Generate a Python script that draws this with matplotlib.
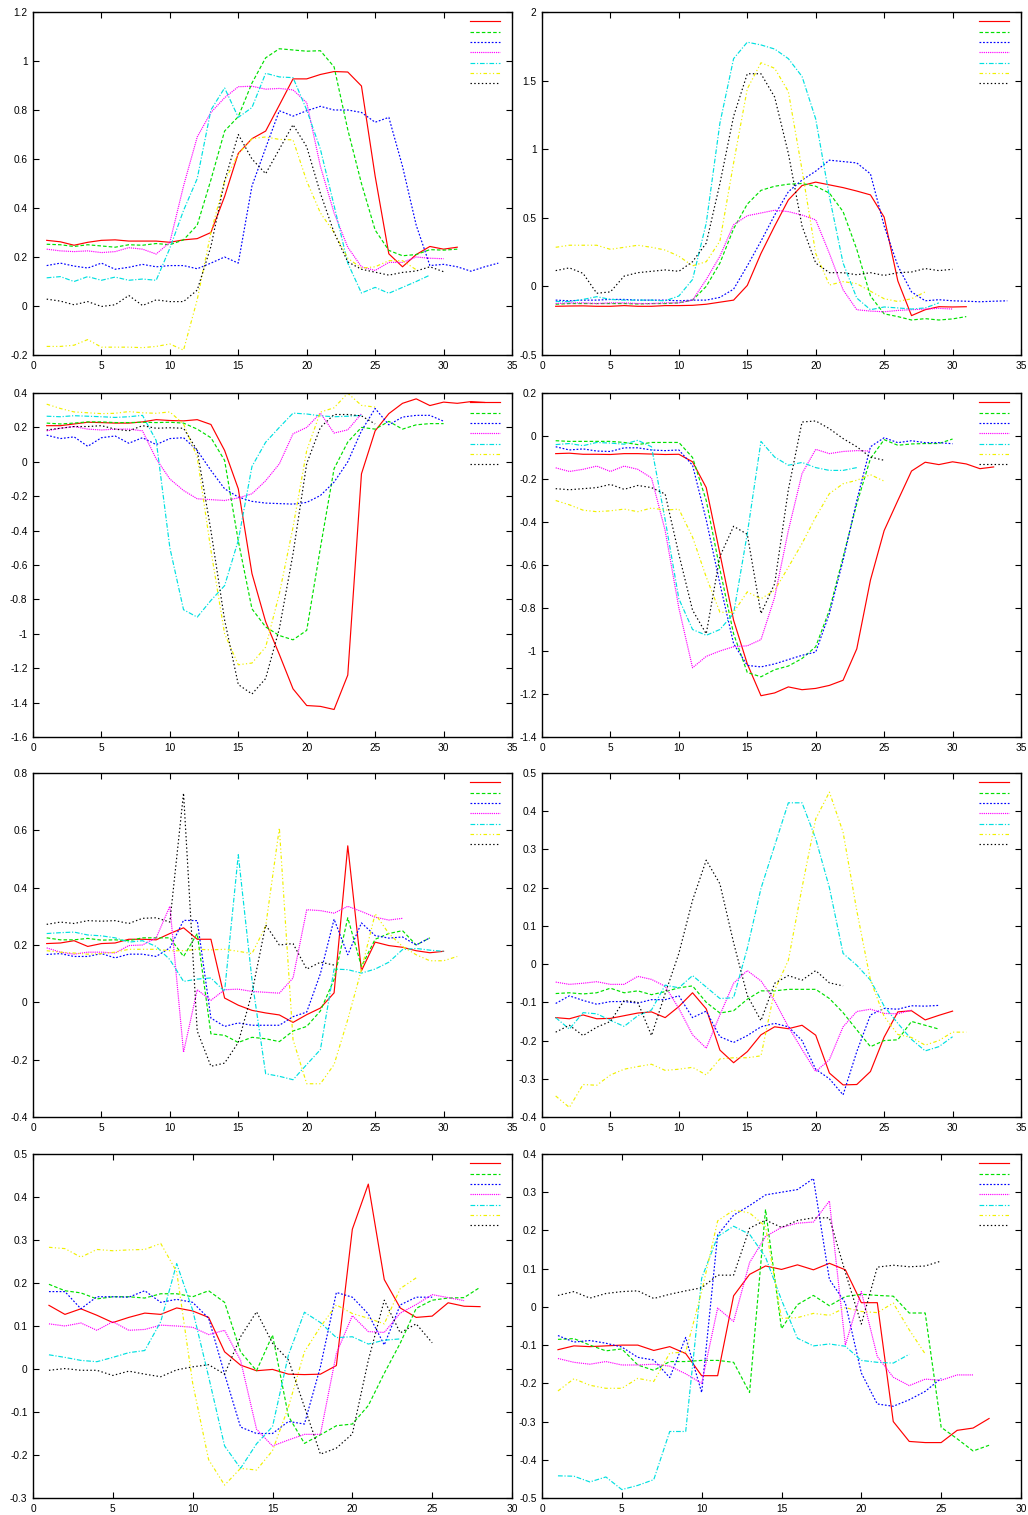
import numpy as np
import matplotlib
matplotlib.use('Agg')
import matplotlib.pyplot as plt
from matplotlib.ticker import FixedLocator, FuncFormatter

plt.rcParams['font.family'] = ['Liberation Sans', 'DejaVu Sans']

# ---------------- data (x = 1..N) ----------------
p1_red = [0.268, 0.262, 0.248, 0.26, 0.268, 0.27, 0.265, 0.265, 0.265, 0.26, 0.27, 0.275, 0.30, 0.447, 0.623, 0.683, 0.714, 0.82, 0.927, 0.927, 0.945, 0.957, 0.955, 0.898, 0.53, 0.213, 0.16, 0.21, 0.243, 0.232, 0.24]
p1_green = [0.252, 0.25, 0.243, 0.25, 0.245, 0.24, 0.25, 0.248, 0.255, 0.25, 0.27, 0.33, 0.515, 0.714, 0.773, 0.91, 1.013, 1.05, 1.045, 1.04, 1.042, 0.976, 0.72, 0.50, 0.31, 0.227, 0.205, 0.21, 0.23, 0.228, 0.232]
p1_blue = [0.165, 0.175, 0.163, 0.155, 0.175, 0.15, 0.158, 0.17, 0.16, 0.165, 0.165, 0.152, 0.175, 0.20, 0.175, 0.49, 0.645, 0.797, 0.775, 0.797, 0.815, 0.80, 0.80, 0.79, 0.75, 0.77, 0.57, 0.33, 0.165, 0.17, 0.16, 0.142, 0.16, 0.175]
p1_magenta = [0.232, 0.225, 0.222, 0.225, 0.218, 0.222, 0.238, 0.232, 0.212, 0.26, 0.49, 0.69, 0.79, 0.85, 0.895, 0.897, 0.885, 0.888, 0.882, 0.83, 0.57, 0.38, 0.24, 0.16, 0.145, 0.178, 0.178, 0.20, 0.195, 0.193]
p1_cyan = [0.115, 0.12, 0.10, 0.12, 0.105, 0.118, 0.105, 0.11, 0.105, 0.236, 0.39, 0.52, 0.80, 0.89, 0.77, 0.81, 0.95, 0.935, 0.932, 0.80, 0.64, 0.41, 0.175, 0.053, 0.076, 0.052, 0.076, 0.10, 0.126]
p1_yellow = [-0.165, -0.165, -0.16, -0.137, -0.168, -0.168, -0.168, -0.17, -0.165, -0.155, -0.18, 0.026, 0.30, 0.51, 0.62, 0.683, 0.69, 0.68, 0.678, 0.51, 0.38, 0.30, 0.195, 0.155, 0.16, 0.185, 0.185, 0.148]
p1_black = [0.028, 0.02, 0.005, 0.018, -0.002, 0.005, 0.043, 0.002, 0.025, 0.018, 0.018, 0.065, 0.243, 0.51, 0.70, 0.60, 0.54, 0.64, 0.74, 0.65, 0.46, 0.30, 0.18, 0.15, 0.138, 0.126, 0.137, 0.143, 0.16, 0.14]

p2_red = [-0.145, -0.143, -0.142, -0.145, -0.145, -0.14, -0.145, -0.145, -0.14, -0.14, -0.138, -0.13, -0.115, -0.10, 0.007, 0.24, 0.44, 0.63, 0.735, 0.76, 0.74, 0.72, 0.695, 0.667, 0.505, 0.04, -0.213, -0.17, -0.148, -0.15, -0.148]
p2_green = [-0.13, -0.125, -0.125, -0.125, -0.125, -0.125, -0.128, -0.125, -0.125, -0.12, -0.10, 0.0, 0.17, 0.42, 0.60, 0.70, 0.73, 0.745, 0.75, 0.73, 0.68, 0.545, 0.27, -0.07, -0.20, -0.22, -0.245, -0.235, -0.245, -0.237, -0.22]
p2_blue = [-0.10, -0.105, -0.10, -0.10, -0.095, -0.095, -0.10, -0.10, -0.10, -0.105, -0.10, -0.10, -0.08, -0.02, 0.15, 0.33, 0.52, 0.69, 0.775, 0.84, 0.92, 0.91, 0.90, 0.82, 0.44, 0.15, -0.04, -0.105, -0.097, -0.105, -0.108, -0.112, -0.108, -0.105]
p2_magenta = [-0.125, -0.12, -0.12, -0.125, -0.12, -0.12, -0.125, -0.125, -0.12, -0.12, -0.10, 0.05, 0.22, 0.45, 0.515, 0.535, 0.555, 0.545, 0.52, 0.485, 0.24, -0.025, -0.17, -0.18, -0.185, -0.175, -0.17, -0.165, -0.16, -0.165]
p2_cyan = [-0.11, -0.11, -0.095, -0.075, -0.095, -0.10, -0.10, -0.10, -0.105, -0.07, 0.05, 0.46, 1.19, 1.66, 1.78, 1.76, 1.73, 1.66, 1.53, 1.22, 0.655, 0.17, -0.085, -0.17, -0.15, -0.157, -0.165, -0.157, -0.12]
p2_yellow = [0.285, 0.30, 0.30, 0.30, 0.27, 0.285, 0.30, 0.285, 0.265, 0.22, 0.15, 0.18, 0.33, 0.90, 1.44, 1.63, 1.59, 1.42, 0.85, 0.24, 0.01, 0.035, 0.02, -0.035, -0.09, -0.11, -0.09, -0.04]
p2_black = [0.115, 0.135, 0.095, -0.05, -0.04, 0.075, 0.10, 0.11, 0.12, 0.11, 0.18, 0.315, 0.75, 1.24, 1.55, 1.55, 1.38, 0.97, 0.44, 0.17, 0.10, 0.10, 0.085, 0.10, 0.08, 0.10, 0.105, 0.13, 0.115, 0.125]

p3_red = [0.21, 0.21, 0.22, 0.23, 0.228, 0.225, 0.225, 0.232, 0.245, 0.24, 0.238, 0.245, 0.217, 0.066, -0.157, -0.65, -0.93, -1.12, -1.32, -1.417, -1.422, -1.44, -1.24, -0.07, 0.18, 0.28, 0.34, 0.366, 0.327, 0.347, 0.34, 0.35, 0.345]
p3_green = [0.225, 0.22, 0.225, 0.232, 0.232, 0.228, 0.228, 0.23, 0.228, 0.23, 0.225, 0.19, 0.14, 0.008, -0.46, -0.855, -0.96, -1.01, -1.035, -0.98, -0.50, -0.04, 0.115, 0.20, 0.19, 0.235, 0.19, 0.215, 0.222, 0.222]
p3_blue = [0.155, 0.135, 0.145, 0.09, 0.14, 0.15, 0.108, 0.14, 0.10, 0.135, 0.14, 0.066, -0.05, -0.157, -0.205, -0.23, -0.24, -0.243, -0.246, -0.236, -0.196, -0.118, 0.0, 0.18, 0.31, 0.215, 0.26, 0.27, 0.27, 0.236]
p3_magenta = [0.18, 0.195, 0.205, 0.19, 0.185, 0.19, 0.19, 0.18, 0.017, -0.10, -0.167, -0.215, -0.22, -0.225, -0.21, -0.186, -0.11, -0.012, 0.163, 0.20, 0.283, 0.167, 0.186, 0.279]
p3_cyan = [0.265, 0.262, 0.268, 0.265, 0.262, 0.258, 0.262, 0.27, 0.124, -0.50, -0.86, -0.903, -0.806, -0.72, -0.457, -0.027, 0.114, 0.20, 0.283, 0.278, 0.267, 0.262, 0.265, 0.27]
p3_yellow = [0.335, 0.31, 0.29, 0.285, 0.28, 0.282, 0.292, 0.285, 0.282, 0.29, 0.22, 0.027, -0.515, -1.0, -1.18, -1.17, -1.077, -0.767, -0.38, 0.066, 0.289, 0.314, 0.399, 0.328, 0.318]
p3_black = [0.185, 0.195, 0.205, 0.205, 0.21, 0.19, 0.18, 0.21, 0.195, 0.198, 0.195, 0.066, -0.40, -0.92, -1.295, -1.35, -1.26, -0.97, -0.535, -0.01, 0.20, 0.275, 0.275, 0.267, 0.22]

p4_red = [-0.082, -0.08, -0.085, -0.085, -0.086, -0.082, -0.082, -0.084, -0.086, -0.085, -0.12, -0.24, -0.547, -0.857, -1.06, -1.208, -1.195, -1.167, -1.18, -1.174, -1.16, -1.136, -0.99, -0.67, -0.44, -0.30, -0.163, -0.122, -0.133, -0.12, -0.13, -0.152, -0.144]
p4_green = [-0.022, -0.025, -0.025, -0.025, -0.025, -0.03, -0.04, -0.03, -0.03, -0.03, -0.10, -0.30, -0.62, -0.92, -1.10, -1.12, -1.087, -1.07, -1.035, -0.98, -0.81, -0.563, -0.315, -0.105, -0.017, -0.043, -0.037, -0.035, -0.035, -0.014]
p4_blue = [-0.05, -0.065, -0.06, -0.07, -0.072, -0.055, -0.055, -0.065, -0.068, -0.065, -0.136, -0.39, -0.687, -0.966, -1.067, -1.074, -1.06, -1.04, -1.02, -1.005, -0.826, -0.578, -0.30, -0.05, -0.008, -0.031, -0.022, -0.031, -0.031, -0.036]
p4_magenta = [-0.148, -0.165, -0.155, -0.14, -0.165, -0.14, -0.155, -0.195, -0.44, -0.80, -1.078, -1.025, -1.0, -0.98, -0.976, -0.947, -0.75, -0.44, -0.175, -0.062, -0.082, -0.072, -0.068, -0.07]
p4_cyan = [-0.04, -0.035, -0.045, -0.03, -0.033, -0.038, -0.02, -0.05, -0.39, -0.757, -0.90, -0.927, -0.90, -0.826, -0.454, -0.025, -0.098, -0.136, -0.123, -0.147, -0.16, -0.16, -0.147]
p4_yellow = [-0.30, -0.32, -0.345, -0.352, -0.348, -0.34, -0.352, -0.335, -0.345, -0.34, -0.47, -0.656, -0.82, -0.82, -0.725, -0.757, -0.718, -0.61, -0.50, -0.377, -0.268, -0.222, -0.206, -0.18, -0.21]
p4_black = [-0.245, -0.25, -0.245, -0.24, -0.225, -0.248, -0.23, -0.24, -0.27, -0.55, -0.81, -0.92, -0.56, -0.42, -0.457, -0.826, -0.687, -0.25, 0.065, 0.07, 0.034, -0.012, -0.05, -0.098, -0.113]

p5_red = [0.205, 0.207, 0.215, 0.195, 0.205, 0.207, 0.22, 0.22, 0.218, 0.24, 0.26, 0.22, 0.22, 0.015, -0.01, -0.028, -0.037, -0.044, -0.07, -0.043, -0.02, 0.033, 0.546, 0.11, 0.21, 0.198, 0.192, 0.18, 0.173, 0.178]
p5_green = [0.225, 0.218, 0.218, 0.223, 0.217, 0.218, 0.215, 0.225, 0.225, 0.225, 0.16, 0.24, -0.11, -0.115, -0.14, -0.122, -0.127, -0.137, -0.10, -0.084, -0.03, 0.08, 0.295, 0.125, 0.22, 0.24, 0.25, 0.2, 0.225]
p5_blue = [0.167, 0.17, 0.16, 0.16, 0.17, 0.155, 0.168, 0.168, 0.16, 0.19, 0.286, 0.285, -0.055, -0.084, -0.072, -0.08, -0.08, -0.08, -0.05, -0.034, 0.10, 0.29, 0.166, 0.277, 0.233, 0.224, 0.228, 0.2, 0.225]
p5_magenta = [0.19, 0.175, 0.168, 0.175, 0.175, 0.172, 0.198, 0.2, 0.225, 0.335, -0.174, 0.044, 0.007, 0.044, 0.046, 0.038, 0.035, 0.032, 0.085, 0.323, 0.32, 0.311, 0.335, 0.317, 0.297, 0.287, 0.293]
p5_cyan = [0.24, 0.243, 0.245, 0.235, 0.232, 0.225, 0.21, 0.215, 0.195, 0.149, 0.073, 0.081, 0.085, 0.038, 0.515, 0.079, -0.249, -0.258, -0.27, -0.217, -0.165, 0.116, 0.114, 0.102, 0.116, 0.14, 0.184, 0.188, 0.182, 0.178]
p5_yellow = [0.18, 0.175, 0.172, 0.168, 0.17, 0.175, 0.185, 0.185, 0.185, 0.18, 0.18, 0.185, 0.183, 0.185, 0.178, 0.17, 0.265, 0.608, -0.13, -0.284, -0.284, -0.217, -0.06, 0.114, 0.309, 0.24, 0.195, 0.166, 0.145, 0.145, 0.16]
p5_black = [0.272, 0.28, 0.275, 0.285, 0.283, 0.285, 0.275, 0.293, 0.295, 0.28, 0.73, -0.10, -0.223, -0.212, -0.14, 0.033, 0.27, 0.2, 0.205, 0.116, 0.14, 0.13]

p6_red = [-0.14, -0.143, -0.133, -0.143, -0.142, -0.135, -0.128, -0.125, -0.14, -0.111, -0.075, -0.117, -0.225, -0.258, -0.229, -0.185, -0.164, -0.169, -0.16, -0.186, -0.285, -0.316, -0.315, -0.281, -0.191, -0.125, -0.122, -0.146, -0.134, -0.123]
p6_green = [-0.077, -0.075, -0.078, -0.075, -0.063, -0.075, -0.07, -0.08, -0.072, -0.062, -0.057, -0.10, -0.128, -0.122, -0.092, -0.07, -0.07, -0.066, -0.066, -0.066, -0.09, -0.127, -0.172, -0.216, -0.20, -0.198, -0.15, -0.16, -0.17]
p6_blue = [-0.103, -0.083, -0.095, -0.105, -0.098, -0.098, -0.102, -0.093, -0.093, -0.083, -0.14, -0.123, -0.19, -0.205, -0.187, -0.164, -0.155, -0.164, -0.20, -0.275, -0.30, -0.342, -0.229, -0.133, -0.116, -0.118, -0.109, -0.11, -0.108]
p6_magenta = [-0.047, -0.053, -0.05, -0.046, -0.053, -0.053, -0.032, -0.04, -0.058, -0.116, -0.185, -0.22, -0.133, -0.05, -0.017, -0.044, -0.096, -0.164, -0.223, -0.281, -0.25, -0.164, -0.124, -0.118, -0.129, -0.13, -0.12]
p6_cyan = [-0.14, -0.17, -0.127, -0.13, -0.147, -0.163, -0.135, -0.12, -0.055, -0.062, -0.03, -0.06, -0.09, -0.088, 0.041, 0.198, 0.31, 0.422, 0.422, 0.328, 0.20, 0.028, -0.003, -0.042, -0.11, -0.155, -0.197, -0.227, -0.216, -0.19]
p6_yellow = [-0.345, -0.375, -0.315, -0.317, -0.29, -0.275, -0.268, -0.262, -0.278, -0.275, -0.27, -0.29, -0.248, -0.245, -0.245, -0.24, -0.068, 0.01, 0.20, 0.38, 0.45, 0.345, 0.14, -0.042, -0.137, -0.184, -0.192, -0.212, -0.20, -0.178, -0.178]
p6_black = [-0.178, -0.16, -0.187, -0.165, -0.15, -0.095, -0.1, -0.187, -0.077, 0.028, 0.167, 0.272, 0.21, 0.056, -0.082, -0.148, -0.05, -0.03, -0.042, -0.017, -0.049, -0.057]

p7_red = [0.148, 0.127, 0.14, 0.125, 0.108, 0.12, 0.13, 0.127, 0.142, 0.135, 0.12, 0.04, 0.009, -0.004, -0.001, -0.012, -0.013, -0.012, 0.008, 0.325, 0.43, 0.208, 0.142, 0.12, 0.123, 0.154, 0.146, 0.145]
p7_green = [0.197, 0.182, 0.177, 0.163, 0.168, 0.168, 0.165, 0.175, 0.175, 0.168, 0.182, 0.155, 0.04, -0.004, 0.079, -0.11, -0.173, -0.153, -0.132, -0.128, -0.085, -0.01, 0.06, 0.141, 0.16, 0.165, 0.166, 0.19]
p7_blue = [0.18, 0.18, 0.14, 0.168, 0.168, 0.167, 0.182, 0.155, 0.162, 0.155, 0.118, -0.012, -0.135, -0.15, -0.15, -0.122, -0.128, 0.005, 0.178, 0.167, 0.128, 0.056, 0.149, 0.167, 0.167]
p7_magenta = [0.105, 0.1, 0.107, 0.09, 0.11, 0.09, 0.092, 0.102, 0.1, 0.097, 0.08, 0.09, 0.02, -0.14, -0.179, -0.165, -0.152, -0.152, 0.036, 0.124, 0.087, 0.085, 0.13, 0.15, 0.173, 0.166, 0.159]
p7_cyan = [0.033, 0.027, 0.02, 0.017, 0.027, 0.038, 0.043, 0.11, 0.245, 0.137, -0.018, -0.179, -0.231, -0.174, -0.134, 0.033, 0.132, 0.108, 0.073, 0.075, 0.058, 0.067, 0.07]
p7_yellow = [0.283, 0.28, 0.26, 0.278, 0.275, 0.277, 0.278, 0.292, 0.226, -0.033, -0.211, -0.27, -0.231, -0.235, -0.19, -0.088, 0.04, 0.098, 0.149, 0.129, 0.118, 0.105, 0.187, 0.212]
p7_black = [-0.003, 0.001, -0.003, -0.003, -0.015, -0.005, -0.012, -0.018, -0.002, 0.005, 0.01, -0.012, 0.075, 0.133, 0.06, 0.021, -0.088, -0.198, -0.184, -0.151, 0.02, 0.16, 0.084, 0.105, 0.061]

p8_red = [-0.112, -0.102, -0.104, -0.102, -0.1, -0.1, -0.114, -0.104, -0.122, -0.18, -0.18, 0.029, 0.085, 0.107, 0.098, 0.11, 0.097, 0.114, 0.097, 0.011, 0.011, -0.30, -0.352, -0.355, -0.355, -0.323, -0.317, -0.292]
p8_green = [-0.085, -0.083, -0.1, -0.115, -0.11, -0.152, -0.166, -0.143, -0.143, -0.14, -0.14, -0.145, -0.224, 0.255, -0.057, 0.006, 0.03, 0.003, 0.027, 0.033, 0.03, 0.028, -0.016, -0.016, -0.315, -0.345, -0.377, -0.362]
p8_blue = [-0.075, -0.092, -0.088, -0.095, -0.105, -0.132, -0.139, -0.185, -0.08, -0.224, 0.188, 0.24, 0.265, 0.293, 0.3, 0.307, 0.336, 0.072, 0.01, -0.173, -0.254, -0.26, -0.243, -0.221, -0.187]
p8_magenta = [-0.135, -0.145, -0.15, -0.143, -0.152, -0.152, -0.15, -0.155, -0.175, -0.2, -0.003, -0.038, 0.116, 0.184, 0.208, 0.219, 0.222, 0.277, -0.1, 0.04, -0.13, -0.184, -0.206, -0.189, -0.192, -0.178, -0.178]
p8_cyan = [-0.442, -0.443, -0.458, -0.445, -0.478, -0.467, -0.452, -0.326, -0.326, 0.075, 0.184, 0.211, 0.19, 0.13, 0.018, -0.082, -0.102, -0.097, -0.103, -0.14, -0.145, -0.147, -0.124]
p8_yellow = [-0.22, -0.188, -0.205, -0.213, -0.213, -0.187, -0.195, -0.121, -0.118, 0.04, 0.225, 0.253, 0.246, 0.21, -0.03, -0.028, -0.017, -0.022, -0.002, -0.012, -0.015, 0.01, -0.06, -0.123]
p8_black = [0.03, 0.04, 0.023, 0.035, 0.04, 0.042, 0.022, 0.033, 0.042, 0.05, 0.083, 0.083, 0.206, 0.227, 0.208, 0.226, 0.233, 0.233, 0.09, -0.045, 0.104, 0.109, 0.105, 0.107, 0.12]

# axis ranges: (xmax, ymin, ymax, ystep)
p1_axis = (35, -0.2, 1.2, 0.2)
p2_axis = (35, -0.5, 2.0, 0.5)
p3_axis = (35, -1.6, 0.4, 0.2)
p4_axis = (35, -1.4, 0.2, 0.2)
p5_axis = (35, -0.4, 0.8, 0.2)
p6_axis = (35, -0.4, 0.5, 0.1)
p7_axis = (30, -0.3, 0.5, 0.1)
p8_axis = (30, -0.5, 0.4, 0.1)

panels = [
    ([p1_red, p1_green, p1_blue, p1_magenta, p1_cyan, p1_yellow, p1_black], p1_axis),
    ([p2_red, p2_green, p2_blue, p2_magenta, p2_cyan, p2_yellow, p2_black], p2_axis),
    ([p3_red, p3_green, p3_blue, p3_magenta, p3_cyan, p3_yellow, p3_black], p3_axis),
    ([p4_red, p4_green, p4_blue, p4_magenta, p4_cyan, p4_yellow, p4_black], p4_axis),
    ([p5_red, p5_green, p5_blue, p5_magenta, p5_cyan, p5_yellow, p5_black], p5_axis),
    ([p6_red, p6_green, p6_blue, p6_magenta, p6_cyan, p6_yellow, p6_black], p6_axis),
    ([p7_red, p7_green, p7_blue, p7_magenta, p7_cyan, p7_yellow, p7_black], p7_axis),
    ([p8_red, p8_green, p8_blue, p8_magenta, p8_cyan, p8_yellow, p8_black], p8_axis),
]

# gnuplot-like line types
colors = ['#ff0000', '#00e000', '#0000ff', '#ff00ff', '#00e0e0', '#f0f000', '#000000']
styles = ['-', (0, (3, 1.8)), (0, (1.5, 1.5)), (0, (1, 0.8)), (0, (4, 1.5, 1, 1.5)),
          (0, (3, 2, 1, 2, 1, 2)), (0, (1.2, 2))]

W, H = 1028, 1515
fig = plt.figure(figsize=(W / 100, H / 100), dpi=100)

col_x = [33, 542]
row_y = [(12, 355), (393, 737), (773, 1117), (1154, 1498)]
ax_w = 479


def fmt(v, pos):
    v = round(v, 6)
    if abs(v) < 1e-9:
        return '0'
    return '%g' % v


for i, (series, (xmax, ymin, ymax, ystep)) in enumerate(panels):
    r, c = divmod(i, 2)
    top, bot = row_y[r]
    ax = fig.add_axes([col_x[c] / W, 1 - bot / H, ax_w / W, (bot - top) / H])
    lines = []
    for vals, col, ls in zip(series, colors, styles):
        x = np.arange(1, len(vals) + 1)
        ln, = ax.plot(x, vals, color=col, linestyle=ls, linewidth=0.85)
        lines.append(ln)
    ax.set_xlim(0, xmax)
    ax.set_ylim(ymin, ymax)
    ax.xaxis.set_major_locator(FixedLocator(np.arange(0, xmax + 0.1, 5)))
    ax.yaxis.set_major_locator(FixedLocator(np.arange(ymin, ymax + ystep / 2, ystep)))
    ax.xaxis.set_major_formatter(FuncFormatter(fmt))
    ax.yaxis.set_major_formatter(FuncFormatter(fmt))
    ax.tick_params(direction='in', length=4, width=0.8, top=True, right=True,
                   labelsize=7.3, pad=4)
    for sp in ax.spines.values():
        sp.set_linewidth(1.0)
    ax.legend(lines, [' '] * 7, loc='upper right', bbox_to_anchor=(0.979, 0.981),
              frameon=False, fontsize=6, handlelength=3.6, handletextpad=0.0,
              labelspacing=0.3, borderpad=0.0, borderaxespad=0.0)

fig.savefig('out.png', dpi=100)
